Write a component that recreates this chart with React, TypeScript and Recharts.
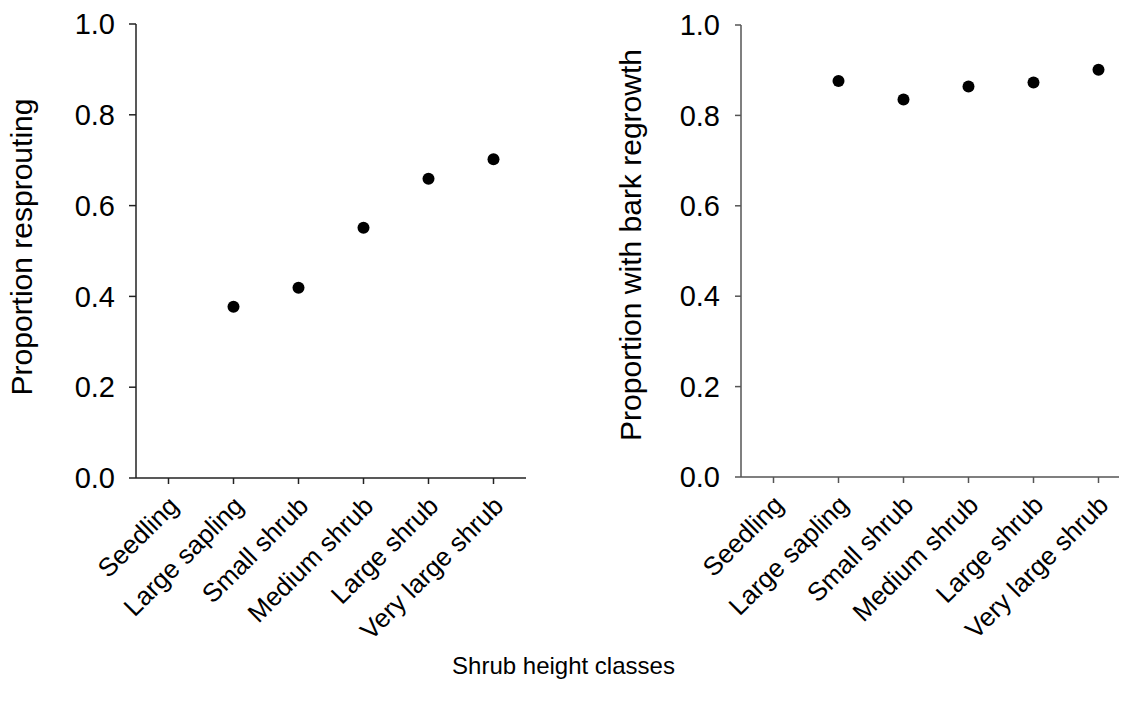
import { LineChart, Line, XAxis, YAxis } from "recharts";

const heightClasses = [
  "Seedling",
  "Large sapling",
  "Small shrub",
  "Medium shrub",
  "Large shrub",
  "Very large shrub",
];

// null = no estimate for that class
const resprouting = [null, 0.377, 0.419, 0.551, 0.659, 0.702];
const barkRegrowth = [null, 0.876, 0.835, 0.864, 0.873, 0.901];

const yTicks = [0, 0.2, 0.4, 0.6, 0.8, 1.0];

const font = "'Liberation Sans', Arial, sans-serif";

const leftData = heightClasses.map((c, i) => ({ cls: c, value: resprouting[i] }));
const rightData = heightClasses.map((c, i) => ({ cls: c, value: barkRegrowth[i] }));

function SlantTick(props: any) {
  const { x, y, payload } = props;
  return (
    <g transform={`translate(${x + 5},${y + 15}) rotate(-45)`}>
      <text x={0} y={0} dy="0.35em" textAnchor="end" fontSize={26} fontFamily={font} fill="#000">
        {payload.value}
      </text>
    </g>
  );
}

function SideLabel(props: any) {
  const { viewBox, text, cx, shift } = props;
  const cy = viewBox ? viewBox.y + viewBox.height / 2 + shift : 245;
  return (
    <g transform={`translate(${cx},${cy}) rotate(-90)`}>
      <text x={0} y={0} dy="0.35em" textAnchor="middle" fontSize={30} fontFamily={font} fill="#000">
        {text}
      </text>
    </g>
  );
}

interface PanelProps {
  data: { cls: string; value: number | null }[];
  label: string;
  width: number;
  axisWidth: number;
  top: number;
  plotHeight: number;
  axisColor: string;
  labelX: number;
  labelShift: number;
  tickMargin: number;
  tickSize: number;
}

function Panel(p: PanelProps) {
  const line = { stroke: p.axisColor, strokeWidth: 1.5 };
  return (
    <LineChart
      width={p.width}
      height={711}
      data={p.data}
      margin={{ top: p.top, right: 0, left: 0, bottom: 0 }}
    >
      <XAxis
        dataKey="cls"
        interval={0}
        padding={{ left: 32.5, right: 32.5 }}
        height={711 - p.top - p.plotHeight}
        tickSize={6}
        axisLine={line}
        tickLine={line}
        tick={<SlantTick />}
      />
      <YAxis
        domain={[0, 1]}
        ticks={yTicks}
        width={p.axisWidth}
        tickSize={p.tickSize}
        tickMargin={p.tickMargin}
        axisLine={line}
        tickLine={line}
        tickFormatter={(v: number) => v.toFixed(1)}
        tick={{ fontSize: 29, fill: "#000", fontFamily: font }}
        label={<SideLabel text={p.label} cx={p.labelX} shift={p.labelShift} />}
      />
      <Line
        dataKey="value"
        stroke="none"
        isAnimationActive={false}
        dot={{ r: 6, fill: "#000", stroke: "none" }}
        activeDot={false}
      />
    </LineChart>
  );
}

export default function App() {
  return (
    <div
      style={{
        position: "relative",
        width: 1127,
        height: 711,
        margin: -8,
        overflow: "hidden",
        background: "#fff",
        fontFamily: font,
      }}
    >
      <div style={{ position: "absolute", left: 0, top: 0 }}>
        <Panel
          data={leftData}
          label="Proportion resprouting"
          width={526}
          axisWidth={136}
          top={24}
          plotHeight={454}
          axisColor="#222"
          labelX={21}
          labelShift={-4}
          tickSize={7}
          tickMargin={14}
        />
      </div>
      <div style={{ position: "absolute", left: 600, top: 0 }}>
        <Panel
          data={rightData}
          label="Proportion with bark regrowth"
          width={531}
          axisWidth={141}
          top={25}
          plotHeight={452}
          axisColor="#555"
          labelX={30}
          labelShift={-6}
          tickSize={6}
          tickMargin={15}
        />
      </div>
      <div
        style={{
          position: "absolute",
          left: 0,
          width: 1127,
          top: 652,
          textAlign: "center",
          fontSize: 24,
          color: "#000",
        }}
      >
        Shrub height classes
      </div>
    </div>
  );
}
